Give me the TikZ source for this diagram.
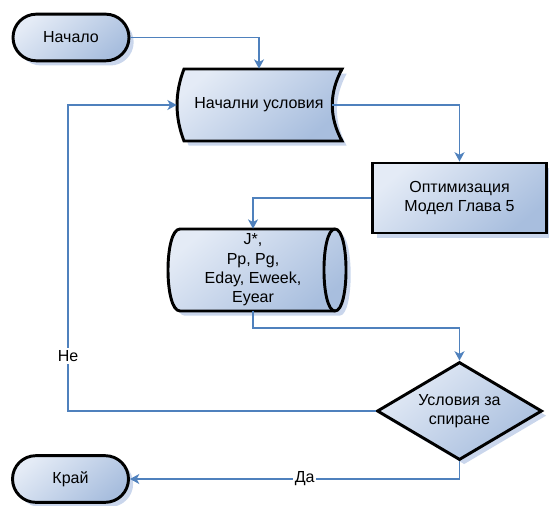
\documentclass[tikz,border=0pt]{standalone}
\usepackage{fontspec}
\setmainfont{Liberation Sans}
\usetikzlibrary{shapes.geometric,arrows.meta,shadows}

\definecolor{flowblue}{RGB}{79,129,189}
\definecolor{boxlight}{RGB}{228,235,246}
\definecolor{boxdark}{RGB}{168,190,222}
\definecolor{shadeblue}{RGB}{196,210,234}

\begin{document}
\begin{tikzpicture}[x=0.75pt, y=-0.75pt,
	every node/.style={font=\fontsize{12pt}{14.5pt}\selectfont, align=center, inner sep=0pt},
	block/.style={draw=black, line width=2.2pt, top color=boxlight, bottom color=boxdark,
		shading angle=40,
		drop shadow={shadow xshift=3.5pt, shadow yshift=-3.5pt, fill=shadeblue, opacity=0.9}},
	term/.style={block, minimum width=87pt, minimum height=35pt, rounded corners=17.5pt},
	flow/.style={draw=flowblue, line width=1.3pt, -{Stealth[length=7pt,width=7.5pt,inset=2pt]}},
	tag/.style={fill=white, inner sep=1.5pt}]

	\useasboundingbox (0,0) rectangle (549,506);

	% terminals
	\node[term] (start) at (71,37.5) {Начало};
	\node[term] (stop) at (70.5,479) {Край};

	% initial conditions (stored data)
	\path[block] (184,69) -- (342,69) .. controls (329,93) and (329,117) .. (342,141)
	   -- (184,141) .. controls (174.7,117) and (174.7,93) .. cycle;
	\node[minimum width=123pt, minimum height=54pt] (init) at (259,105) {Начални условия};

	% optimisation
	\node[block, minimum width=131pt, minimum height=52.5pt] (opt) at (459.5,198)
	   {Оптимизация\\Модел Глава 5};

	% results (horizontal cylinder)
	\path[block] (180,229) -- (335,229) .. controls (349.7,229) and (349.7,311) .. (335,311)
	   -- (180,311) .. controls (164,311) and (164,229) .. cycle;
	\draw[line width=2.2pt] (335,229) .. controls (320.3,229) and (320.3,311) .. (335,311);
	\node[minimum width=130pt, minimum height=61.5pt] (store) at (253,270)
	   {J*,\\Pp, Pg,\\Eday, Eweek,\\Eyear};

	% stop condition
	\node[block, diamond, aspect=1.68, minimum width=123.75pt, minimum height=73.5pt]
	   (dec) at (459.5,411) {Условия за\\спиране};

	% connectors
	\coordinate (back) at (68,411);
	\draw[flow] (start.east) -| (init.north);
	\draw[flow] ([xshift=-7pt]init.east) -| (opt.north);
	\draw[flow] (opt.west) -| (store.north);
	\draw[flow] (store.south) -- ++(0,17) -| (dec.north);
	\draw[flow] (dec.west) -- (back) |- node[tag, pos=0.09] {Не} (init.west);
	\draw[flow] (dec.south) |- node[tag, pos=0.735] {Да} (stop.east);
\end{tikzpicture}
\end{document}
